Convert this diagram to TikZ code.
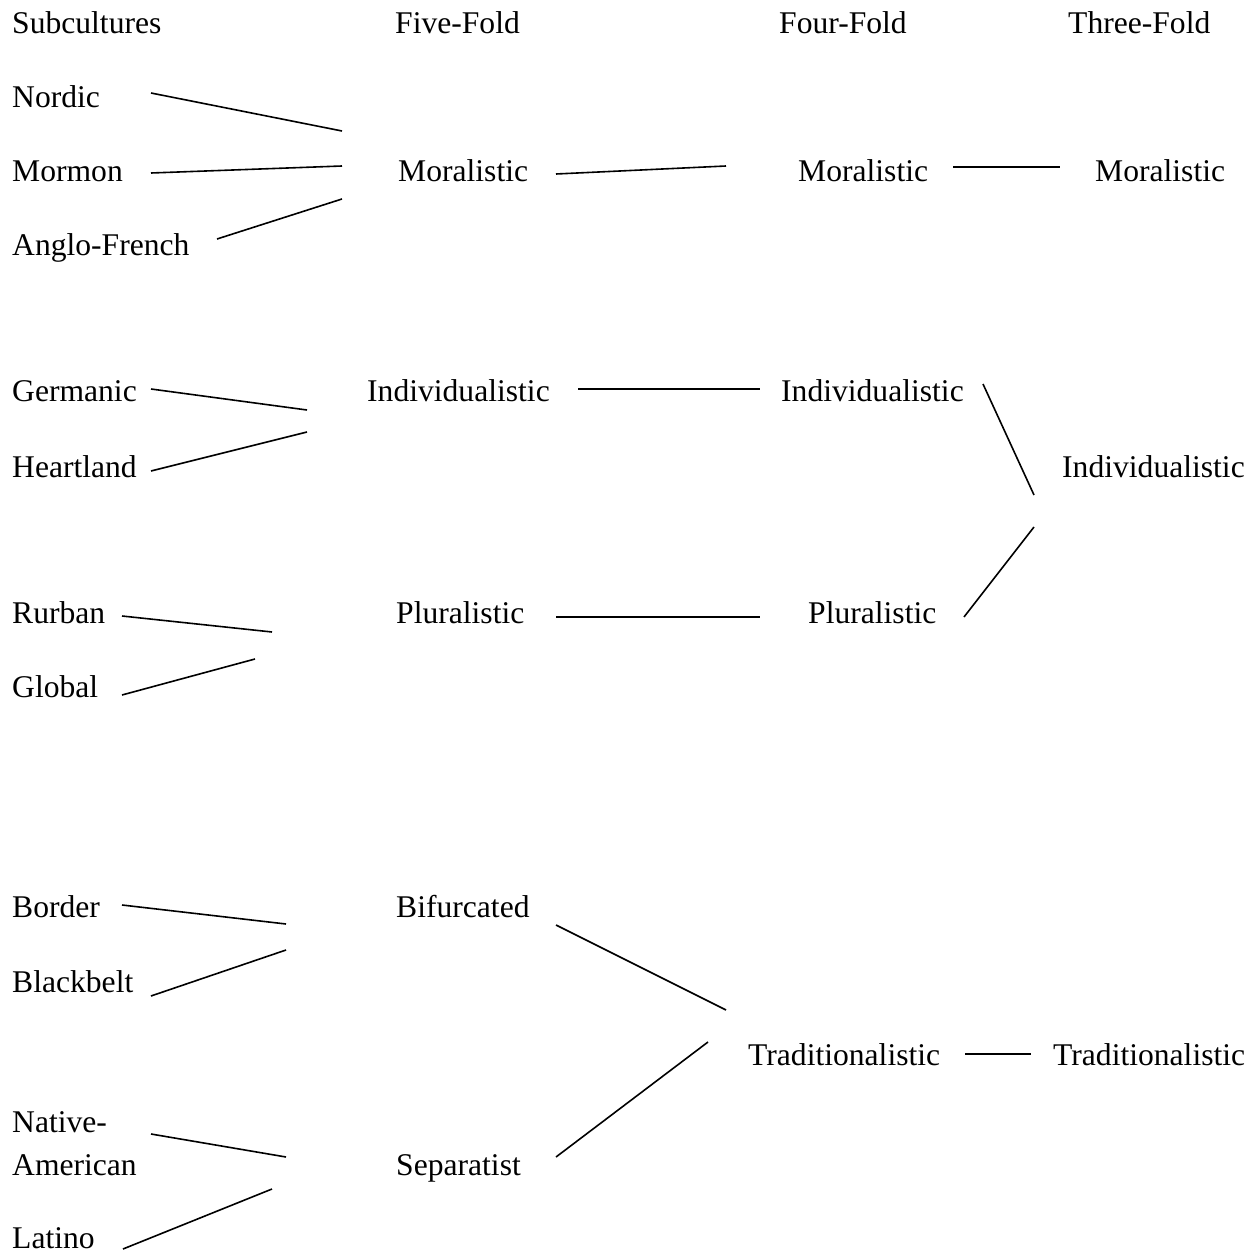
\documentclass[tikz,border=0pt]{standalone}
\usepackage{fontspec}
\setmainfont{Liberation Serif}
\begin{document}
\begin{tikzpicture}[x=1pt,y=-1pt,
  lbl/.style={anchor=base west,inner sep=0pt,font=\fontsize{31.6}{37}\selectfont},
  conn/.style={line width=1.6pt}]
\useasboundingbox[fill=white] (0,0) rectangle (1259,1257);
% headers
\node[lbl] (hsub) at (12,34) {Subcultures};
\node[lbl] (hfive) at (395,34) {Five-Fold};
\node[lbl] (hfour) at (779,34) {Four-Fold};
\node[lbl] (hthree) at (1068,34) {Three-Fold};
% subcultures
\node[lbl] (nordic) at (12,108) {Nordic};
\node[lbl] (mormon) at (12,182) {Mormon};
\node[lbl] (anglo) at (12,256) {Anglo-French};
\node[lbl] (germanic) at (12,402) {Germanic};
\node[lbl] (heartland) at (12,477) {Heartland};
\node[lbl] (rurban) at (12,623) {Rurban};
\node[lbl] (global) at (12,697) {Global};
\node[lbl] (border) at (12,917) {Border};
\node[lbl] (blackbelt) at (12,992) {Blackbelt};
\node[lbl] (native) at (12,1132) {Native-};
\node[lbl] (american) at (12,1175) {American};
\node[lbl] (latino) at (12,1248) {Latino};
% five-fold
\node[lbl] (mor5) at (398,182) {Moralistic};
\node[lbl] (ind5) at (367,402) {Individualistic};
\node[lbl] (plu5) at (396,623) {Pluralistic};
\node[lbl] (bif5) at (396,917) {Bifurcated};
\node[lbl] (sep5) at (396,1175) {Separatist};
% four-fold
\node[lbl] (mor4) at (798,182) {Moralistic};
\node[lbl] (ind4) at (781,402) {Individualistic};
\node[lbl] (plu4) at (808,623) {Pluralistic};
\node[lbl] (tra4) at (748,1065) {Traditionalistic};
% three-fold
\node[lbl] (mor3) at (1095,182) {Moralistic};
\node[lbl] (ind3) at (1062,477) {Individualistic};
\node[lbl] (tra3) at (1053,1065) {Traditionalistic};
% connector end points
\coordinate (a1) at (151,93);   \coordinate (b1) at (342,131);
\coordinate (a2) at (151,173);  \coordinate (b2) at (342,166);
\coordinate (a3) at (217,239);  \coordinate (b3) at (342,199);
\coordinate (a4) at (556,174);  \coordinate (b4) at (726,166);
\coordinate (a5) at (953,167);  \coordinate (b5) at (1060,167);
\coordinate (a6) at (151,389);  \coordinate (b6) at (307,410);
\coordinate (a7) at (151,471);  \coordinate (b7) at (307,432);
\coordinate (a8) at (578,389);  \coordinate (b8) at (760,389);
\coordinate (a9) at (983,384);  \coordinate (b9) at (1034,495);
\coordinate (a10) at (964,617); \coordinate (b10) at (1034,527);
\coordinate (a11) at (122,616); \coordinate (b11) at (272,632);
\coordinate (a12) at (122,695); \coordinate (b12) at (255,659);
\coordinate (a13) at (556,617); \coordinate (b13) at (760,617);
\coordinate (a14) at (122,905); \coordinate (b14) at (286,924);
\coordinate (a15) at (151,996); \coordinate (b15) at (286,950);
\coordinate (a16) at (556,925); \coordinate (b16) at (726,1010);
\coordinate (a17) at (556,1157);\coordinate (b17) at (708,1042);
\coordinate (a18) at (965,1054);\coordinate (b18) at (1031,1054);
\coordinate (a19) at (151,1134);\coordinate (b19) at (286,1157);
\coordinate (a20) at (123,1249);\coordinate (b20) at (272,1189);
\foreach \i in {1,...,20} {\draw[conn] (a\i) -- (b\i);}
\end{tikzpicture}
\end{document}
